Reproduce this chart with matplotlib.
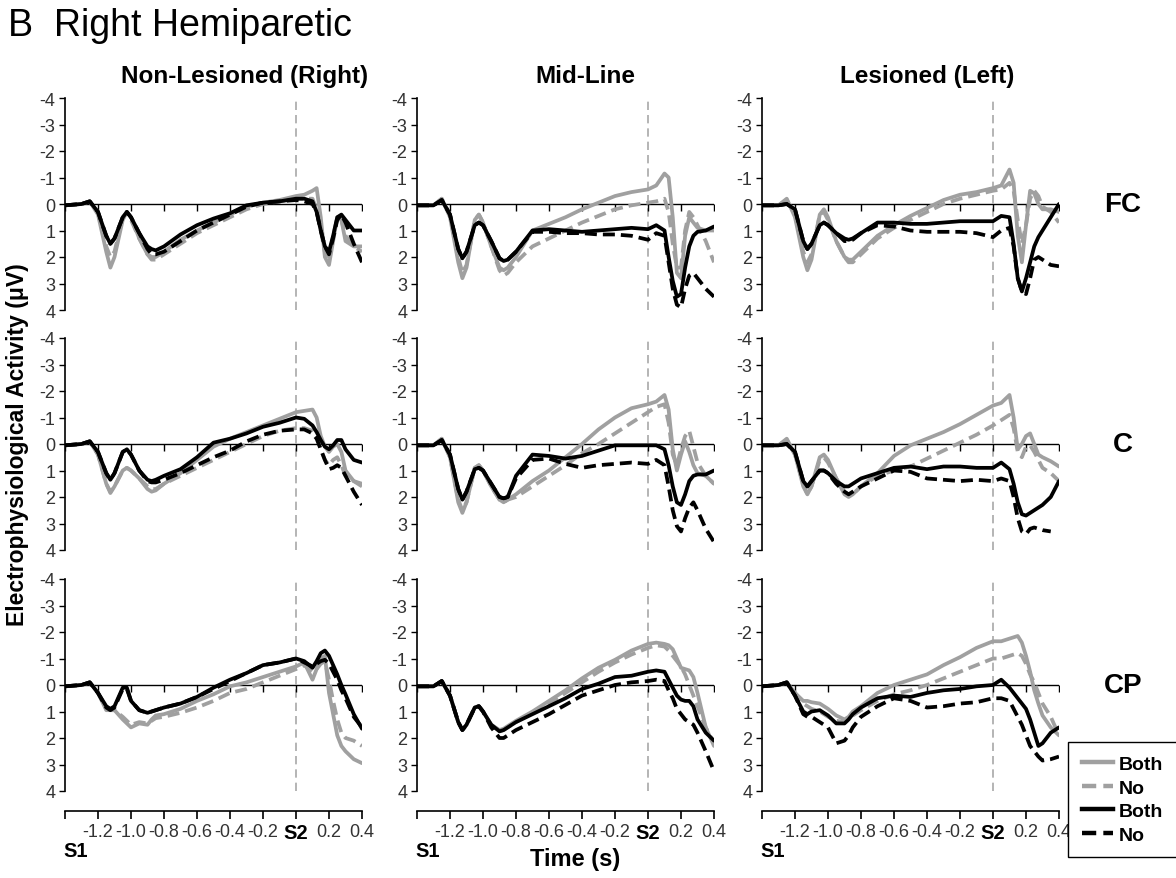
import numpy as np
import matplotlib
matplotlib.use('Agg')
import matplotlib.pyplot as plt
from matplotlib.lines import Line2D

plt.rcParams['font.family'] = ['Liberation Sans', 'DejaVu Sans']
plt.rcParams['axes.unicode_minus'] = False

nan = np.nan

# shared time base (s), S1 at -1.4, S2 at 0
time_s = [-1.40, -1.30, -1.25, -1.20, -1.15, -1.125, -1.10, -1.05, -1.025, -1.00,
          -0.95, -0.90, -0.875, -0.85, -0.80, -0.70, -0.60, -0.50, -0.40, -0.30,
          -0.20, -0.10, 0.00, 0.05, 0.10, 0.125, 0.15, 0.175, 0.20, 0.225,
          0.25, 0.275, 0.30, 0.35, 0.40]

x_ticks = [-1.4, -1.2, -1.0, -0.8, -0.6, -0.4, -0.2, 0.0, 0.2, 0.4]
x_ticklabels = ['', '-1.2', '-1.0', '-0.8', '-0.6', '-0.4', '-0.2', 'S2', '0.2', '0.4']
y_ticks = [-4, -3, -2, -1, 0, 1, 2, 3, 4]

columns = ['Non-Lesioned (Right)', 'Mid-Line', 'Lesioned (Left)']
rows = ['FC', 'C', 'CP']
conditions = ['Both', 'No', 'Both', 'No']

# FC
fc_left_gray_both = [0.05, 0.0, -0.1, 0.4, 1.8, 2.4, 2.0, 0.6, 0.3, 0.5, 1.3, 1.9, 2.0, 2.0, 1.8, 1.35, 1.0, 0.7, 0.4, 0.1, -0.05, -0.15, -0.3, -0.35, -0.5, -0.6, 0.5, 2.0, 2.3, 1.4, 0.5, 0.6, 1.4, 1.6, 1.6]
fc_left_gray_no = [0.05, 0.0, -0.1, 0.3, 1.6, 2.0, 1.8, 0.5, 0.3, 0.6, 1.3, 1.9, 2.1, 2.1, 1.9, 1.5, 1.1, 0.8, 0.5, 0.2, 0.0, -0.1, -0.2, -0.2, -0.2, 0.2, 1.0, 1.8, 2.0, 1.2, 0.5, 0.6, 1.2, 1.6, 1.8]
fc_left_black_both = [0.05, 0.0, -0.1, 0.3, 1.2, 1.5, 1.3, 0.5, 0.3, 0.5, 1.1, 1.6, 1.7, 1.75, 1.6, 1.15, 0.8, 0.55, 0.35, 0.05, -0.05, -0.1, -0.2, -0.2, -0.1, 0.3, 1.0, 1.6, 1.8, 1.2, 0.5, 0.4, 0.6, 1.0, 1.0]
fc_left_black_no = [0.05, 0.0, -0.1, 0.3, 1.2, 1.5, 1.3, 0.5, 0.3, 0.5, 1.1, 1.7, 1.9, 1.9, 1.8, 1.4, 1.0, 0.7, 0.4, 0.1, -0.05, -0.1, -0.15, -0.1, 0.0, 0.3, 1.0, 1.6, 1.9, 1.3, 0.6, 0.4, 0.7, 1.5, 2.2]

fc_mid_gray_both = [0.05, 0.05, -0.2, 0.5, 2.2, 2.8, 2.4, 0.6, 0.4, 0.7, 1.6, 2.4, 2.5, 2.4, 2.0, 1.0, 0.75, 0.5, 0.2, -0.05, -0.3, -0.45, -0.55, -0.7, -1.15, -1.0, 0.5, 2.6, 2.8, 1.2, 0.5, 0.7, 0.9, 1.0, 1.0]
fc_mid_gray_no = [0.05, 0.05, -0.2, 0.4, 2.0, 2.6, 2.3, 0.6, 0.4, 0.7, 1.6, 2.5, 2.7, 2.6, 2.2, 1.6, 1.3, 1.0, 0.7, 0.45, 0.2, 0.05, -0.05, -0.1, -0.2, 0.3, 1.5, 2.4, 2.4, 1.0, 0.3, 0.5, 0.8, 1.4, 2.2]
fc_mid_black_both = [0.05, 0.05, -0.15, 0.4, 1.7, 2.05, 1.8, 0.8, 0.7, 0.8, 1.4, 2.05, 2.15, 2.1, 1.8, 1.0, 0.95, 1.0, 1.05, 1.0, 0.95, 0.9, 0.95, 0.8, 1.0, 2.0, 2.9, 3.5, 3.4, 2.4, 1.6, 1.2, 1.05, 1.0, 0.85]
fc_mid_black_no = [0.05, 0.05, -0.15, 0.4, 1.7, 2.05, 1.8, 0.8, 0.7, 0.8, 1.4, 2.05, 2.15, 2.1, 1.8, 1.05, 1.05, 1.1, 1.1, 1.15, 1.15, 1.2, 1.35, 1.1, 1.2, 2.2, 3.2, 3.8, 3.9, 3.2, 2.7, 2.6, 2.8, 3.2, 3.5]

fc_right_gray_both = [0.05, 0.05, -0.2, 0.5, 2.0, 2.5, 2.1, 0.4, 0.2, 0.5, 1.4, 2.0, 2.1, 2.1, 1.8, 1.2, 0.8, 0.45, 0.15, -0.15, -0.35, -0.45, -0.6, -0.7, -1.3, -0.8, 1.2, 2.2, 0.8, -0.5, -0.4, 0.0, 0.2, 0.2, 0.3]
fc_right_gray_no = [0.05, 0.05, -0.15, 0.4, 1.8, 2.2, 1.9, 0.4, 0.3, 0.6, 1.4, 2.0, 2.2, 2.2, 1.9, 1.3, 0.9, 0.6, 0.3, 0.0, -0.2, -0.35, -0.5, -0.55, -0.8, -0.5, 0.6, 1.5, 0.8, -0.2, -0.5, -0.3, 0.1, 0.3, 0.7]
fc_right_black_both = [0.05, 0.05, 0.0, 0.2, 1.4, 1.7, 1.5, 0.8, 0.7, 0.8, 1.1, 1.3, 1.35, 1.3, 1.1, 0.7, 0.7, 0.75, 0.75, 0.7, 0.65, 0.65, 0.65, 0.45, 0.5, 1.5, 2.8, 3.3, 2.8, 2.2, 1.6, 1.25, 1.0, 0.5, 0.0]
fc_right_black_no = [0.05, 0.05, 0.0, 0.2, 1.4, 1.7, 1.5, 0.8, 0.7, 0.8, 1.1, 1.4, 1.4, 1.35, 1.1, 0.8, 0.85, 1.0, 1.05, 1.05, 1.05, 1.1, 1.25, 1.0, 0.9, 1.6, 2.8, 3.3, 3.4, 2.8, 2.1, 2.0, 2.1, 2.3, 2.35]

# C
c_left_gray_both = [0.05, 0.0, -0.1, 0.4, 1.5, 1.85, 1.6, 1.0, 0.9, 1.0, 1.3, 1.7, 1.8, 1.75, 1.5, 1.1, 0.6, 0.1, -0.2, -0.45, -0.7, -0.95, -1.2, -1.25, -1.3, -1.0, -0.3, 0.1, 0.3, 0.1, 0.0, 0.3, 1.0, 1.4, 1.5]
c_left_gray_no = [0.05, 0.0, -0.1, 0.4, 1.5, 1.8, 1.6, 1.0, 0.9, 1.0, 1.3, 1.6, 1.7, 1.7, 1.5, 1.2, 0.9, 0.6, 0.3, 0.0, -0.3, -0.5, -0.6, -0.6, -0.5, -0.3, 0.2, 0.6, 0.8, 0.6, 0.5, 0.8, 1.2, 1.4, 1.6]
c_left_black_both = [0.05, 0.0, -0.1, 0.3, 1.1, 1.35, 1.1, 0.3, 0.2, 0.4, 1.0, 1.35, 1.4, 1.35, 1.2, 0.95, 0.5, -0.05, -0.2, -0.4, -0.65, -0.8, -1.0, -0.95, -0.7, -0.45, -0.15, 0.1, 0.2, 0.05, -0.15, -0.15, 0.2, 0.6, 0.7]
c_left_black_no = [0.05, 0.0, -0.1, 0.3, 1.1, 1.35, 1.1, 0.3, 0.2, 0.4, 1.0, 1.4, 1.45, 1.45, 1.35, 1.1, 0.8, 0.5, 0.25, -0.1, -0.35, -0.5, -0.55, -0.55, -0.4, -0.2, 0.2, 0.6, 0.95, 0.9, 0.8, 0.9, 1.2, 1.8, 2.3]

c_mid_gray_both = [0.05, 0.05, -0.2, 0.5, 2.2, 2.6, 2.2, 0.9, 0.8, 1.0, 1.6, 2.1, 2.2, 2.1, 1.9, 1.4, 1.0, 0.5, 0.0, -0.55, -1.0, -1.35, -1.5, -1.6, -1.85, -1.3, 0.2, 1.0, 0.4, -0.1, 0.3, 0.8, 1.1, 1.2, 1.5]
c_mid_gray_no = [0.05, 0.05, -0.2, 0.5, 2.1, 2.5, 2.2, 0.9, 0.8, 1.0, 1.6, 2.1, 2.2, 2.1, 2.0, 1.6, 1.2, 0.8, 0.35, 0.0, -0.4, -0.8, -1.2, -1.4, -1.5, -0.8, 0.4, 0.8, 0.2, -0.3, -0.5, 0.1, 0.7, 1.2, 1.5]
c_mid_black_both = [0.05, 0.05, -0.15, 0.4, 1.7, 2.1, 1.8, 0.95, 0.9, 1.0, 1.5, 2.0, 2.05, 2.0, 1.2, 0.4, 0.45, 0.55, 0.45, 0.25, 0.05, 0.05, 0.05, 0.05, 0.2, 0.8, 1.6, 2.2, 2.3, 1.9, 1.4, 1.2, 1.15, 1.15, 1.0]
c_mid_black_no = [0.05, 0.05, -0.15, 0.4, 1.7, 2.1, 1.8, 0.95, 0.9, 1.0, 1.5, 2.0, 2.05, 2.0, 1.3, 0.6, 0.55, 0.75, 0.9, 0.8, 0.75, 0.7, 0.75, 0.6, 0.8, 1.6, 2.5, 3.1, 3.3, 2.8, 2.4, 2.2, 2.5, 3.2, 3.7]

c_right_gray_both = [0.05, 0.05, -0.2, 0.4, 1.6, 1.9, 1.6, 0.5, 0.4, 0.6, 1.3, 1.9, 2.0, 1.9, 1.6, 1.1, 0.45, 0.05, -0.2, -0.45, -0.75, -1.1, -1.45, -1.55, -1.85, -1.0, 0.2, 0.0, -0.3, -0.4, 0.0, 0.4, 0.5, 0.65, 0.85]
c_right_gray_no = [0.05, 0.05, -0.15, 0.4, 1.5, 1.9, 1.6, 0.6, 0.5, 0.7, 1.3, 1.8, 1.9, 1.9, 1.6, 1.2, 1.0, 0.85, 0.55, 0.25, -0.05, -0.35, -0.7, -0.9, -1.1, -0.6, 0.3, 0.5, 0.1, 0.05, 0.3, 0.6, 0.9, 1.1, 1.4]
c_right_black_both = [0.05, 0.05, 0.0, 0.3, 1.4, 1.6, 1.4, 1.0, 1.0, 1.1, 1.4, 1.6, 1.6, 1.5, 1.3, 1.1, 0.9, 0.85, 0.95, 0.85, 0.85, 0.9, 0.9, 0.7, 0.95, 1.5, 2.2, 2.65, 2.7, 2.6, 2.5, 2.4, 2.3, 2.0, 1.4]
c_right_black_no = [0.05, 0.05, 0.0, 0.3, 1.4, 1.6, 1.4, 1.0, 1.0, 1.1, 1.5, 1.8, 1.9, 1.8, 1.6, 1.3, 1.0, 1.05, 1.3, 1.35, 1.4, 1.35, 1.4, 1.3, 1.4, 2.0, 2.8, 3.3, 3.4, 3.2, 3.15, 3.2, 3.25, 3.3, nan]

# CP
cp_left_gray_both = [0.05, 0.0, -0.1, 0.3, 0.95, 0.95, 0.95, 1.3, 1.45, 1.6, 1.45, 1.5, 1.3, 1.15, 1.1, 0.9, 0.6, 0.35, 0.05, -0.1, -0.3, -0.5, -0.7, -0.85, -0.2, -0.6, -1.0, -1.1, 0.3, 1.1, 1.9, 2.3, 2.5, 2.8, 2.95]
cp_left_gray_no = [0.05, 0.0, -0.1, 0.3, 0.9, 0.95, 0.95, 1.2, 1.35, 1.5, 1.4, 1.45, 1.35, 1.25, 1.2, 1.05, 0.85, 0.6, 0.3, 0.15, -0.1, -0.35, -0.6, -0.75, -0.5, -0.6, -0.8, -0.9, -0.2, 0.6, 1.3, 1.8, 2.0, 2.1, 2.3]
cp_left_black_both = [0.05, 0.0, -0.1, 0.3, 0.8, 0.9, 0.8, 0.1, 0.1, 0.6, 0.95, 1.05, 1.0, 0.95, 0.85, 0.7, 0.45, 0.1, -0.2, -0.45, -0.75, -0.85, -1.0, -0.9, -0.65, -0.9, -1.2, -1.3, -1.1, -0.75, -0.4, 0.0, 0.35, 1.1, 1.65]
cp_left_black_no = [0.05, 0.0, -0.1, 0.3, 0.85, 0.95, 0.85, 0.15, 0.15, 0.6, 0.95, 1.05, 1.0, 0.95, 0.85, 0.7, 0.45, 0.15, -0.15, -0.45, -0.75, -0.85, -1.0, -0.85, -0.7, -0.8, -0.9, -0.95, -0.8, -0.5, -0.2, 0.2, 0.5, 1.2, 1.6]

cp_mid_gray_both = [0.05, 0.05, -0.15, 0.4, 1.4, 1.7, 1.5, 0.85, 0.8, 1.0, 1.5, 1.7, 1.65, 1.55, 1.35, 1.0, 0.6, 0.2, -0.25, -0.65, -0.95, -1.3, -1.55, -1.6, -1.55, -1.5, -1.35, -1.0, -0.65, -0.6, -0.55, -0.3, 0.3, 1.6, 2.3]
cp_mid_gray_no = [0.05, 0.05, -0.15, 0.4, 1.4, 1.7, 1.5, 0.85, 0.8, 1.0, 1.5, 1.75, 1.7, 1.6, 1.4, 1.05, 0.7, 0.3, -0.1, -0.5, -0.85, -1.15, -1.4, -1.5, -1.45, -1.3, -1.1, -0.9, -0.7, -0.4, 0.0, 0.4, 0.8, 1.6, 2.2]
cp_mid_black_both = [0.05, 0.05, -0.15, 0.4, 1.4, 1.7, 1.5, 0.85, 0.8, 1.0, 1.5, 1.75, 1.7, 1.6, 1.4, 1.1, 0.8, 0.5, 0.15, -0.05, -0.3, -0.35, -0.5, -0.55, -0.5, -0.2, 0.1, 0.4, 0.55, 0.6, 0.6, 0.8, 1.3, 1.8, 2.1]
cp_mid_black_no = [0.05, 0.05, -0.15, 0.4, 1.4, 1.7, 1.5, 0.85, 0.8, 1.0, 1.6, 2.0, 2.0, 1.9, 1.7, 1.4, 1.1, 0.75, 0.4, 0.2, 0.0, -0.1, -0.15, -0.2, -0.15, 0.2, 0.5, 0.9, 1.1, 1.3, 1.4, 1.5, 1.8, 2.5, 3.25]

cp_right_gray_both = [0.05, 0.0, -0.1, 0.3, 0.6, 0.6, 0.65, 0.7, 0.8, 0.9, 1.15, 1.3, 1.2, 1.0, 0.8, 0.3, 0.0, -0.2, -0.4, -0.75, -1.05, -1.4, -1.65, -1.65, -1.75, -1.8, -1.85, -1.6, -1.1, -0.5, 0.2, 0.7, 1.15, 1.6, 1.9]
cp_right_gray_no = [0.05, 0.0, -0.1, 0.3, 0.7, 0.8, 0.9, 1.0, 1.1, 1.2, 1.35, 1.4, 1.3, 1.15, 0.95, 0.6, 0.35, 0.2, 0.0, -0.25, -0.5, -0.75, -1.0, -1.0, -1.1, -1.15, -1.2, -1.1, -0.8, -0.4, -0.1, 0.3, 0.7, 1.2, 1.9]
cp_right_black_both = [0.05, 0.0, -0.1, 0.4, 1.0, 1.1, 1.0, 0.95, 1.05, 1.15, 1.45, 1.45, 1.3, 1.1, 0.85, 0.5, 0.4, 0.45, 0.3, 0.2, 0.15, 0.05, 0.0, -0.2, 0.1, 0.3, 0.5, 0.7, 0.9, 1.3, 1.8, 2.3, 2.2, 1.8, 1.6]
cp_right_black_no = [0.05, 0.0, -0.1, 0.4, 1.1, 1.2, 1.2, 1.4, 1.5, 1.6, 2.2, 2.1, 1.9, 1.6, 1.2, 0.8, 0.5, 0.6, 0.85, 0.8, 0.7, 0.65, 0.5, 0.5, 0.6, 0.9, 1.2, 1.5, 1.9, 2.3, 2.5, 2.7, 2.85, 2.8, 2.7]

panels = [
    [[fc_left_gray_both, fc_left_gray_no, fc_left_black_both, fc_left_black_no],
     [fc_mid_gray_both, fc_mid_gray_no, fc_mid_black_both, fc_mid_black_no],
     [fc_right_gray_both, fc_right_gray_no, fc_right_black_both, fc_right_black_no]],
    [[c_left_gray_both, c_left_gray_no, c_left_black_both, c_left_black_no],
     [c_mid_gray_both, c_mid_gray_no, c_mid_black_both, c_mid_black_no],
     [c_right_gray_both, c_right_gray_no, c_right_black_both, c_right_black_no]],
    [[cp_left_gray_both, cp_left_gray_no, cp_left_black_both, cp_left_black_no],
     [cp_mid_gray_both, cp_mid_gray_no, cp_mid_black_both, cp_mid_black_no],
     [cp_right_gray_both, cp_right_gray_no, cp_right_black_both, cp_right_black_no]],
]

gray = '#a0a0a0'
styles = [dict(color=gray, ls='-'), dict(color=gray, ls=(0, (3.2, 1.6))),
          dict(color='black', ls='-'), dict(color='black', ls=(0, (3.2, 1.6)))]
lw = 2.7

W, H = 1176, 879
fig = plt.figure(figsize=(W / 100, H / 100), dpi=100)
fig.patch.set_facecolor('white')

col_left = [65, 417, 762]
col_w = 297
row_top = [99, 339, 580]
row_h = 212
title_x = [0.604, 0.567, 0.557]

for r in range(3):
    for c in range(3):
        ax = fig.add_axes([col_left[c] / W, 1 - (row_top[r] + row_h) / H, col_w / W, row_h / H])
        ax.set_facecolor('none')
        for k in range(4):
            ax.plot(time_s, panels[r][c][k], lw=lw, solid_capstyle='round',
                    dash_capstyle='butt', **styles[k])
        ax.axvline(0, color='#a8a8a8', lw=1.2, ls=(0, (5, 3)), zorder=0)
        ax.axhline(0, color='black', lw=1.0, zorder=1)
        ax.plot(x_ticks, [0] * len(x_ticks), ls='', marker=3, ms=5, mew=1.0, color='black', zorder=1)

        ax.set_xlim(-1.4, 0.4)
        ax.set_ylim(4, -4)
        ax.set_yticks(y_ticks)
        ax.set_yticklabels([str(v) for v in y_ticks])
        ax.tick_params(axis='y', direction='out', length=4, width=1.0, labelsize=13,
                       colors='black', labelcolor='#333333', pad=3)
        for s in ['top', 'right']:
            ax.spines[s].set_visible(False)
        ax.spines['left'].set_linewidth(1.2)

        if r < 2:
            ax.spines['bottom'].set_visible(False)
            ax.set_xticks([])
        else:
            ax.spines['bottom'].set_position(('outward', 14.4))
            ax.spines['bottom'].set_linewidth(1.2)
            ax.set_xticks(x_ticks)
            ax.set_xticklabels(x_ticklabels)
            ax.tick_params(axis='x', direction='out', length=6, width=1.2, labelsize=13,
                           labelcolor='#333333', pad=3)
            lbl = ax.get_xticklabels()[7]
            lbl.set_fontweight('bold')
            lbl.set_fontsize(14.5)
            lbl.set_color('black')
            ax.annotate('S1', xy=(x_ticks[0], 0), xycoords=('data', 'axes fraction'),
                        xytext=(8, -43), textcoords='offset points',
                        ha='center', va='center', fontsize=14.5, fontweight='bold')

        if r == 0:
            ax.text(title_x[c], 1.104, columns[c], transform=ax.transAxes,
                    ha='center', va='center', fontsize=17.5, fontweight='bold')
        if c == 2:
            ax.text(1.215, 0, rows[r], transform=ax.get_yaxis_transform(),
                    ha='center', va='center', fontsize=20, fontweight='bold')

fig.text(8 / W, 1 - 26 / H, 'B  Right Hemiparetic', fontsize=27, ha='left', va='center')
fig.text(18 / W, 1 - 445 / H, 'Electrophysiological Activity (\u03bcV)', rotation=90,
         fontsize=16.5, fontweight='bold', ha='center', va='center')
fig.text(575 / W, 1 - 860 / H, 'Time (s)', fontsize=17, fontweight='bold', ha='center', va='center')

handles = [Line2D([], [], lw=lw + 0.5, **styles[k]) for k in range(4)]
leg = fig.legend(handles, conditions, loc='upper left', bbox_to_anchor=(1068 / W, 1 - 743 / H),
                 frameon=True, fancybox=False, edgecolor='black', framealpha=1,
                 prop={'weight': 'bold', 'size': 14}, handlelength=1.6,
                 labelspacing=0.3, handletextpad=0.3, borderpad=0.7, borderaxespad=0)
leg.get_frame().set_linewidth(1.0)

fig.savefig('out.png', dpi=100, facecolor='white')
